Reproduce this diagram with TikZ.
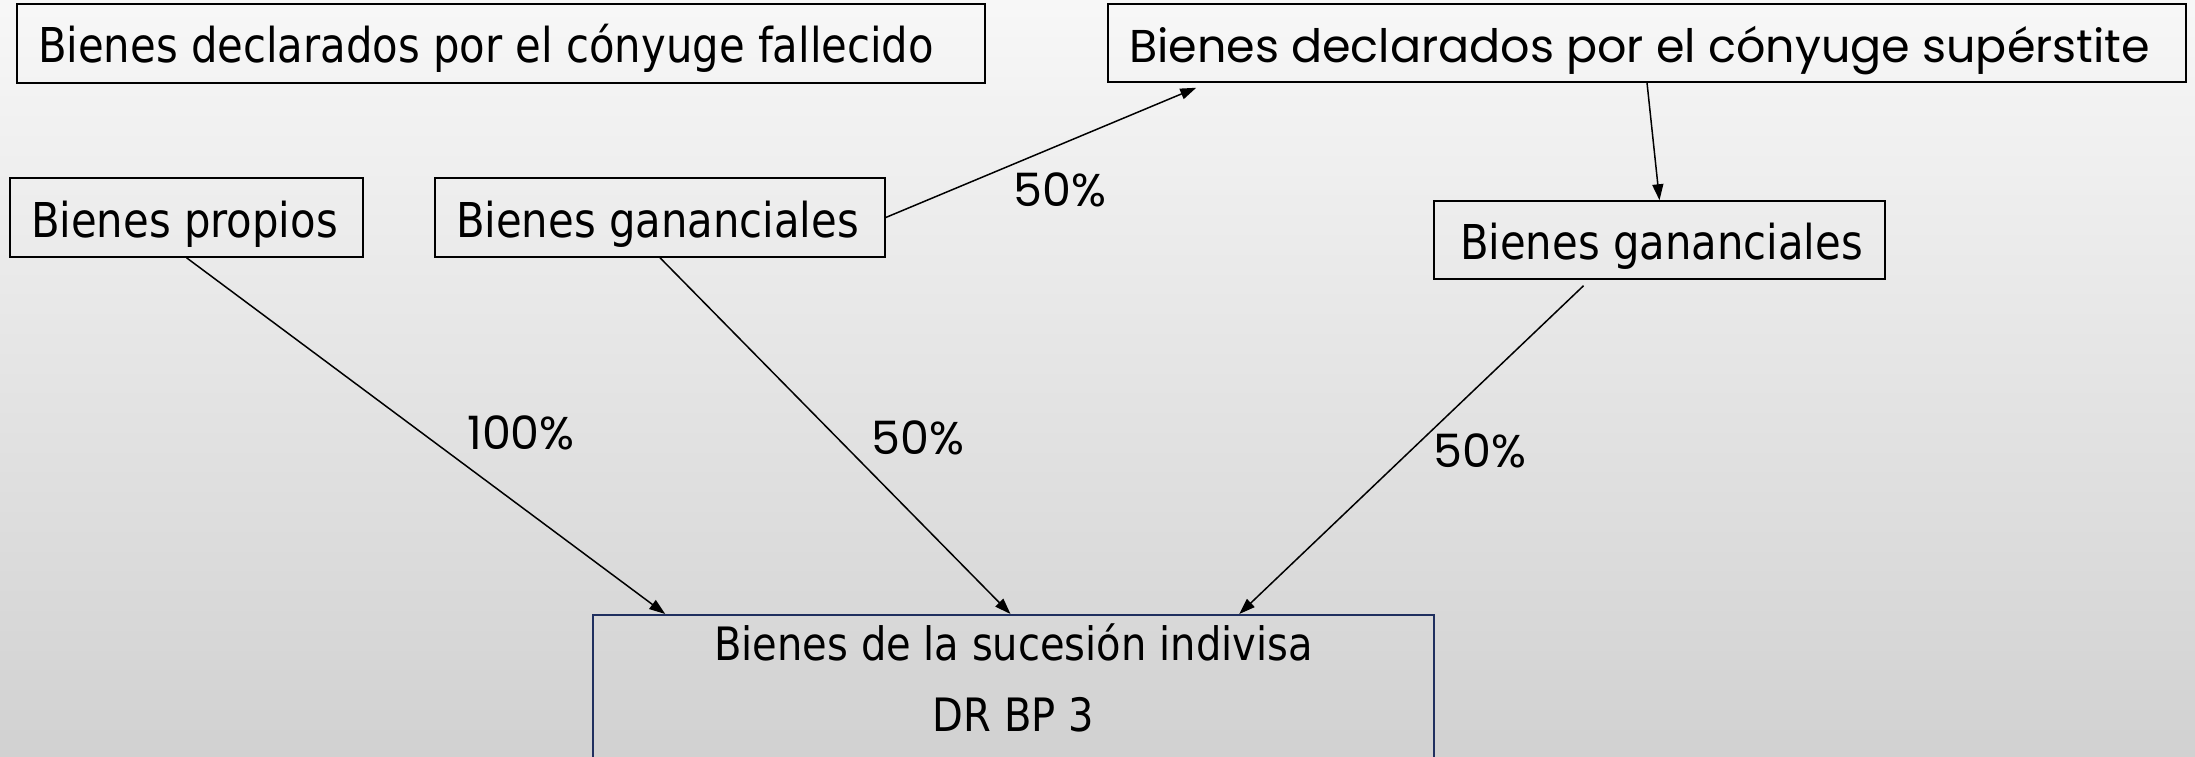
\documentclass[tikz,border=0pt]{standalone}
\usepackage{fontspec}
\setmainfont{DejaVu Sans}[FakeStretch=0.87]
\newfontfamily\gothic{Poppins}
\usetikzlibrary{arrows.meta}
\definecolor{navyline}{HTML}{1F2F5F}
\newcommand{\lefttext}[2]{\makebox[#1][l]{#2}}
\tikzset{
  x=1pt, y=-1pt,
  box/.style={draw=black, line width=1.5pt, rectangle, inner ysep=0pt, inner xsep=21pt,
    text height=42pt, text depth=3pt, font=\fontsize{48}{56}\selectfont},
  gbox/.style={box, font=\gothic\fontsize{46}{54}\selectfont},
  subbox/.style={draw=navyline, line width=1.5pt, rectangle, inner sep=0pt},
  subtext/.style={align=center, inner sep=0pt, font=\fontsize{46}{71}\selectfont},
  pct/.style={inner sep=0pt, font=\gothic\fontsize{46}{54}\selectfont},
  link/.style={draw=black, line width=1.5pt, -{Triangle[length=16pt, width=11pt]}}
}
\begin{document}
\begin{tikzpicture}
\useasboundingbox (0,0) rectangle (2195,757);
\clip (0,0) rectangle (2195,757);
\shade[top color=white!97!black, bottom color=white!82!black] (0,0) rectangle (2195,757);

\node[box, minimum height=79] (fall) at (501,43.5) {\lefttext{926pt}{Bienes declarados por el cónyuge fallecido}};
\node[gbox, minimum height=78] (sup) at (1647,43) {\lefttext{1036pt}{Bienes declarados por el cónyuge supérstite}};
\node[box, minimum height=79] (prop) at (186.5,217.5) {\lefttext{311pt}{Bienes propios}};
\node[box, minimum height=79] (ganl) at (660,217.5) {\lefttext{408pt}{Bienes gananciales}};
\node[box, inner xsep=26pt, minimum height=78] (ganr) at (1659.5,240) {\lefttext{399pt}{Bienes gananciales}};
\node[subbox, minimum width=841, minimum height=220, anchor=north] (suc) at (1013.5,614) {};
\node[subtext, anchor=north] (suct) at ([yshift=-10pt]suc.north) {Bienes de la sucesión indivisa\\DR BP 3};

\draw[link] (prop.south) -- ([xshift=73pt]suc.north west);
\draw[link] (ganl.south) -- ([xshift=-3pt]suc.north);
\draw[link] (ganl.east) -- ([xshift=89pt,yshift=-5pt]sup.south west);
\draw[link] (sup.south) -- (ganr.north);
\draw[link] ([xshift=-76pt,yshift=-6pt]ganr.south) -- ([xshift=647pt]suc.north west);

\node[pct] (p1) at (1060,190) {50\%};
\node[pct] (p2) at (521,433) {100\%};
\node[pct] (p3) at (918,438) {50\%};
\node[pct] (p4) at (1480,451) {50\%};
\end{tikzpicture}
\end{document}
